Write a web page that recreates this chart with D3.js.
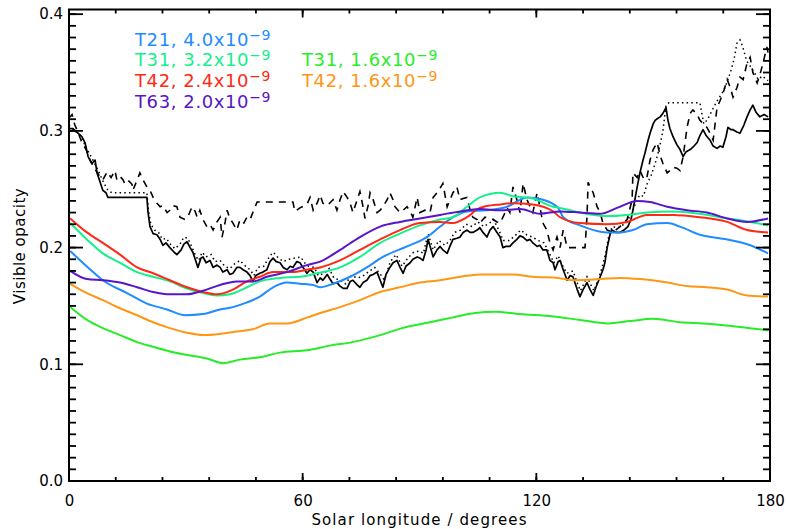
<!DOCTYPE html>
<html>
<head>
<meta charset="utf-8">
<script src="https://cdn.jsdelivr.net/npm/d3@7"></script>
<style>
  body { margin: 0; background: #fff; }
  text { font-family: "DejaVu Sans", sans-serif; }
</style>
</head>
<body>
<script>
// model curves, [solar longitude, visible opacity]
var t21_40 = [[0.3,0.197],[6.2,0.179],[8.7,0.172],[14.9,0.161],[20.0,0.152],[25.2,0.147],[29.8,0.142],[34.4,0.143],
  [38.8,0.147],[42.1,0.149],[45.7,0.153],[49.0,0.158],[52.4,0.166],[56.0,0.170],[59.3,0.169],[62.7,0.168],[64.5,0.166],
  [67.8,0.169],[72.2,0.175],[76.5,0.183],[80.6,0.192],[86.8,0.201],[91.9,0.209],[95.3,0.218],[98.6,0.226],[102.2,0.231],
  [107.3,0.232],[112.5,0.235],[117.6,0.243],[121.7,0.241],[125.6,0.234],[126.9,0.226],[131.2,0.219],[138.2,0.213],
  [141.5,0.213],[144.8,0.215],[148.4,0.220],[153.6,0.221],[156.9,0.218],[162.0,0.211],[169.0,0.207],[174.9,0.202],[179.5,0.195]];

var t31_32 = [[0.3,0.221],[4.6,0.207],[8.7,0.195],[13.1,0.187],[17.5,0.179],[21.6,0.175],[25.9,0.171],[30.3,0.165],
  [34.4,0.161],[38.0,0.159],[41.3,0.160],[45.7,0.166],[49.0,0.171],[54.2,0.174],[59.3,0.175],[63.7,0.178],[69.6,0.183],
  [74.7,0.192],[79.9,0.204],[85.0,0.212],[90.1,0.219],[95.3,0.224],[98.6,0.226],[102.2,0.235],[105.5,0.243],[110.7,0.247],
  [114.0,0.244],[119.1,0.242],[124.3,0.235],[126.1,0.234],[131.2,0.230],[138.2,0.227],[143.3,0.228],[148.4,0.230],
  [155.1,0.231],[162.0,0.229],[169.0,0.225],[174.9,0.222],[179.5,0.219]];

var t42_24 = [[0.3,0.225],[4.6,0.213],[8.7,0.204],[13.1,0.194],[17.5,0.183],[21.6,0.178],[25.9,0.172],[30.3,0.166],
  [34.4,0.162],[38.0,0.160],[42.1,0.164],[45.7,0.171],[49.0,0.175],[52.4,0.179],[57.5,0.179],[61.1,0.181],[64.5,0.183],
  [69.6,0.189],[74.7,0.198],[79.9,0.207],[85.0,0.215],[90.1,0.221],[95.3,0.222],[98.6,0.221],[102.2,0.226],[105.5,0.234],
  [110.7,0.237],[114.0,0.238],[119.1,0.237],[124.3,0.231],[126.1,0.226],[131.2,0.221],[138.2,0.220],[143.3,0.222],
  [148.4,0.228],[155.1,0.228],[162.0,0.226],[169.0,0.222],[174.1,0.215],[179.5,0.213]];

var t63_20 = [[0.3,0.180],[4.6,0.173],[8.7,0.172],[13.1,0.170],[17.5,0.166],[21.6,0.162],[25.9,0.160],[30.3,0.160],
  [34.4,0.163],[38.8,0.168],[43.1,0.171],[47.2,0.171],[50.8,0.175],[56.0,0.179],[61.1,0.185],[64.5,0.188],[69.6,0.198],
  [74.7,0.209],[79.9,0.218],[85.0,0.222],[90.1,0.225],[95.3,0.228],[100.4,0.231],[105.5,0.233],[110.7,0.232],[115.8,0.233],
  [120.9,0.229],[126.1,0.231],[131.2,0.230],[136.4,0.229],[140.7,0.234],[145.9,0.240],[149.2,0.239],[153.6,0.235],
  [158.7,0.232],[163.8,0.230],[169.0,0.225],[174.1,0.222],[179.5,0.225]];

var t31_16 = [[0.3,0.149],[4.6,0.138],[8.7,0.131],[13.1,0.125],[17.5,0.119],[21.6,0.115],[25.9,0.111],[30.3,0.108],
  [35.4,0.105],[39.5,0.101],[43.9,0.104],[49.0,0.106],[54.2,0.110],[61.1,0.112],[67.0,0.116],[72.7,0.119],[79.9,0.125],
  [85.5,0.131],[92.7,0.136],[98.3,0.140],[104.3,0.144],[109.4,0.145],[115.8,0.143],[124.3,0.141],[131.2,0.138],
  [138.4,0.135],[144.1,0.137],[150.0,0.139],[156.9,0.136],[162.8,0.135],[172.3,0.132],[179.7,0.129]];

var t42_16 = [[0.3,0.169],[4.6,0.161],[8.7,0.155],[13.1,0.148],[17.5,0.142],[21.6,0.136],[25.9,0.131],[30.3,0.127],
  [34.4,0.125],[38.8,0.126],[43.1,0.128],[47.2,0.130],[51.6,0.135],[56.0,0.135],[61.1,0.140],[64.5,0.144],[69.6,0.149],
  [74.7,0.155],[79.9,0.162],[85.0,0.166],[90.1,0.170],[95.3,0.172],[100.4,0.175],[105.5,0.177],[110.7,0.177],[114.0,0.177],
  [119.1,0.175],[125.6,0.174],[129.4,0.172],[136.4,0.173],[141.5,0.174],[146.6,0.173],[153.6,0.170],[158.7,0.167],
  [163.8,0.166],[169.0,0.164],[174.1,0.159],[179.5,0.158]];

// observations (black): solid, dotted, dashed
var obsSolid = [[0,0.302],[1.0,0.302],[2.3,0.298],[3.3,0.295],[4.1,0.290],[4.9,0.278],[5.9,0.272],[6.7,0.275],[7.2,0.264],
  [8.0,0.256],[8.7,0.249],[9.5,0.247],[10.0,0.243],[20.0,0.243],[20.3,0.230],[20.8,0.218],[21.6,0.212],[22.6,0.211],
  [23.4,0.207],[24.1,0.202],[24.9,0.204],[25.9,0.200],[27.0,0.196],[27.7,0.194],[28.8,0.198],[29.5,0.203],[30.3,0.205],
  [31.1,0.200],[31.8,0.196],[32.6,0.188],[33.1,0.183],[33.9,0.191],[34.4,0.192],[35.2,0.187],[36.2,0.189],[37.0,0.183],
  [38.0,0.185],[38.8,0.183],[39.5,0.179],[40.6,0.181],[41.3,0.177],[42.1,0.178],[43.1,0.183],[43.9,0.183],[44.7,0.181],
  [45.7,0.179],[46.5,0.176],[47.2,0.171],[48.0,0.176],[49.0,0.178],[49.8,0.179],[50.8,0.181],[51.6,0.188],[52.4,0.191],
  [53.2,0.188],[54.2,0.187],[55.0,0.183],[56.0,0.181],[56.8,0.184],[57.5,0.183],[58.5,0.188],[59.3,0.187],[60.1,0.183],
  [61.1,0.178],[61.9,0.181],[62.7,0.179],[63.7,0.170],[64.5,0.174],[65.2,0.172],[66.3,0.177],[67.0,0.173],[67.8,0.169],
  [68.8,0.170],[69.6,0.167],[70.4,0.165],[71.4,0.165],[72.2,0.171],[72.9,0.172],[74.0,0.168],[74.7,0.166],[75.5,0.170],
  [76.5,0.172],[77.3,0.176],[78.1,0.177],[79.1,0.179],[79.9,0.172],[80.6,0.166],[81.4,0.177],[82.4,0.183],[83.2,0.187],
  [84.2,0.189],[85.0,0.183],[85.8,0.178],[86.5,0.184],[87.6,0.187],[88.3,0.190],[89.4,0.192],[90.1,0.191],[90.9,0.189],
  [91.7,0.198],[92.2,0.207],[93.0,0.198],[93.5,0.192],[94.5,0.198],[95.3,0.201],[96.0,0.198],[97.1,0.195],[97.8,0.201],
  [98.6,0.207],[99.6,0.208],[100.4,0.209],[101.2,0.213],[102.2,0.215],[103.0,0.213],[103.7,0.213],[104.8,0.215],
  [105.5,0.217],[106.3,0.213],[107.3,0.209],[108.1,0.215],[108.9,0.218],[109.9,0.213],[110.7,0.209],[111.4,0.200],
  [112.2,0.201],[113.2,0.201],[114.0,0.204],[115.0,0.207],[115.8,0.210],[116.6,0.209],[117.6,0.206],[118.4,0.207],
  [119.1,0.204],[120.2,0.201],[120.9,0.202],[121.7,0.198],[122.7,0.198],[123.5,0.189],[124.3,0.187],[124.8,0.181],
  [125.6,0.188],[126.1,0.189],[126.9,0.181],[127.9,0.172],[128.7,0.176],[129.4,0.175],[130.5,0.164],[131.2,0.158],
  [132.0,0.164],[133.0,0.170],[133.8,0.164],[134.6,0.159],[135.3,0.166],[136.4,0.175],[137.1,0.181],[137.6,0.187],
  [138.2,0.200],[138.9,0.211],[139.4,0.215],[140.5,0.213],[141.5,0.213],[142.5,0.215],[143.5,0.218],[144.3,0.224],
  [144.8,0.232],[145.9,0.252],[146.6,0.264],[147.4,0.275],[147.9,0.281],[148.7,0.292],[149.2,0.298],[150.0,0.306],
  [150.5,0.309],[151.3,0.311],[151.8,0.312],[152.5,0.315],[153.3,0.320],[153.8,0.309],[154.3,0.302],[155.1,0.295],
  [156.1,0.288],[156.9,0.284],[157.7,0.278],[158.4,0.282],[159.5,0.284],[160.2,0.286],[161.3,0.290],[162.0,0.296],
  [162.8,0.301],[163.6,0.296],[164.6,0.292],[165.4,0.287],[166.4,0.285],[167.2,0.287],[167.9,0.286],[168.7,0.295],
  [169.2,0.303],[170.0,0.301],[170.5,0.301],[171.5,0.299],[172.3,0.298],[173.3,0.305],[174.1,0.312],[174.9,0.318],
  [175.6,0.322],[176.4,0.316],[177.4,0.312],[178.5,0.314],[179.5,0.312]];

var obsDotted = [[0,0.305],[1.5,0.300],[3.0,0.296],[4.5,0.285],[6.0,0.276],[7.5,0.266],[9.0,0.255],[10.0,0.249],
  [11.0,0.247],[20.0,0.247],[20.4,0.232],[21.0,0.220],[22.0,0.215],[23.0,0.213],[24.0,0.207],[25.0,0.208],[26.0,0.203],
  [27.2,0.199],[28.5,0.203],[29.5,0.209],[30.5,0.208],[31.5,0.201],[32.5,0.193],[33.3,0.189],[34.2,0.196],[35.2,0.192],
  [36.5,0.194],[37.5,0.188],[38.8,0.189],[40.0,0.184],[41.3,0.182],[42.5,0.186],[43.9,0.189],[45.0,0.185],[46.5,0.181],
  [47.5,0.176],[48.5,0.183],[50.0,0.184],[51.6,0.193],[52.5,0.196],[53.5,0.192],[55.0,0.188],[56.5,0.190],[58.0,0.191],
  [59.5,0.192],[60.5,0.187],[61.5,0.184],[63.0,0.183],[64.0,0.176],[65.5,0.178],[66.8,0.182],[68.0,0.174],[69.6,0.172],
  [71.0,0.169],[72.5,0.176],[74.0,0.174],[75.2,0.175],[76.8,0.179],[78.5,0.183],[80.0,0.177],[81.0,0.172],[82.5,0.188],
  [84.0,0.194],[85.5,0.184],[87.0,0.191],[88.5,0.196],[90.0,0.197],[91.0,0.195],[92.2,0.212],[93.5,0.198],[95.0,0.206],
  [96.5,0.202],[97.8,0.206],[99.0,0.213],[100.5,0.215],[102.0,0.220],[103.5,0.218],[105.0,0.222],[106.5,0.218],
  [108.0,0.221],[109.0,0.224],[110.5,0.214],[111.5,0.206],[113.0,0.206],[114.5,0.210],[116.0,0.215],[117.5,0.211],
  [119.0,0.209],[120.5,0.206],[122.0,0.204],[123.5,0.194],[124.5,0.187],[125.6,0.193],[126.5,0.186],[127.8,0.178],
  [129.4,0.180],[130.6,0.169],[131.3,0.163],[132.2,0.169],[133.0,0.175],[134.0,0.168],[134.8,0.163],[135.8,0.172],
  [136.8,0.182],[137.8,0.195],[138.6,0.210],[139.5,0.218],[141.0,0.217],[142.5,0.220],[143.5,0.224],[144.5,0.229],
  [145.5,0.238],[146.5,0.245],[147.5,0.244],[148.5,0.255],[149.5,0.262],[150.5,0.272],[151.5,0.284],[152.5,0.300],
  [153.3,0.322],[154.0,0.324],[162.0,0.324],[163.0,0.306],[164.0,0.310],[165.5,0.320],[166.5,0.326],[168.0,0.334],
  [169.0,0.342],[170.0,0.352],[170.8,0.362],[171.5,0.375],[172.3,0.378],[173.0,0.372],[174.0,0.360],[175.0,0.355],
  [176.0,0.350],[177.0,0.344],[178.0,0.347],[179.5,0.343]];

var obsDashed = [[0,0.311],[0.8,0.314],[1.5,0.305],[2.3,0.299],[3.3,0.290],[4.4,0.284],[5.4,0.275],[6.7,0.267],
  [7.7,0.262],[8.7,0.258],[9.8,0.265],[10.8,0.260],[11.8,0.266],[12.3,0.258],[13.1,0.261],[13.9,0.258],[14.4,0.254],
  [15.4,0.257],[16.2,0.254],[16.4,0.249],[17.5,0.258],[18.2,0.264],[19.0,0.258],[20.0,0.252],[20.8,0.249],[21.6,0.243],
  [22.6,0.238],[23.4,0.235],[24.1,0.236],[25.2,0.230],[25.9,0.232],[26.7,0.236],[27.7,0.235],[28.5,0.226],[29.8,0.224],
  [30.6,0.227],[31.6,0.235],[32.4,0.231],[32.9,0.226],[33.6,0.232],[34.4,0.224],[35.4,0.218],[36.2,0.220],[37.0,0.215],
  [38.0,0.222],[38.8,0.226],[39.3,0.209],[40.1,0.222],[40.6,0.232],[41.3,0.225],[42.1,0.221],[43.1,0.215],[43.9,0.224],
  [44.9,0.221],[45.7,0.226],[46.5,0.224],[47.2,0.230],[48.3,0.239],[57.5,0.239],[58.0,0.231],[59.3,0.234],[61.1,0.237],
  [61.9,0.243],[62.7,0.232],[63.7,0.238],[64.5,0.245],[65.2,0.238],[66.3,0.236],[67.8,0.241],[68.8,0.232],[69.6,0.241],
  [70.4,0.248],[71.4,0.243],[72.2,0.238],[72.9,0.230],[74.0,0.241],[74.7,0.248],[75.5,0.235],[76.0,0.225],[76.8,0.236],
  [77.3,0.247],[78.1,0.241],[79.1,0.230],[79.9,0.232],[80.6,0.235],[81.7,0.241],[82.4,0.247],[83.2,0.241],[83.7,0.235],
  [85.0,0.230],[85.8,0.232],[86.8,0.235],[87.6,0.231],[88.3,0.226],[89.4,0.243],[90.1,0.230],[91.4,0.232],[92.7,0.230],
  [93.5,0.243],[94.5,0.247],[95.3,0.251],[96.0,0.255],[97.1,0.235],[97.8,0.241],[98.6,0.247],[99.6,0.252],[100.4,0.241],
  [101.2,0.242],[102.2,0.243],[103.0,0.232],[103.7,0.226],[104.8,0.224],[105.5,0.221],[106.8,0.226],[107.9,0.225],
  [108.9,0.224],[109.9,0.222],[110.7,0.221],[111.7,0.228],[112.5,0.234],[113.2,0.230],[114.0,0.252],[115.0,0.241],
  [115.8,0.230],[116.6,0.255],[117.6,0.241],[118.4,0.235],[119.1,0.230],[120.2,0.247],[120.9,0.235],[121.7,0.221],
  [122.7,0.215],[123.5,0.204],[124.3,0.198],[125.3,0.209],[126.1,0.200],[126.9,0.215],[127.9,0.200],[132.5,0.200],
  [133.0,0.226],[133.3,0.256],[133.8,0.252],[134.6,0.247],[135.6,0.235],[136.4,0.230],[137.1,0.221],[138.2,0.215],
  [139.7,0.213],[141.5,0.218],[143.3,0.224],[144.6,0.241],[144.8,0.264],[145.9,0.260],[146.6,0.266],[147.7,0.258],
  [148.4,0.260],[149.2,0.275],[150.0,0.284],[151.0,0.290],[151.8,0.279],[152.5,0.272],[153.6,0.264],[154.3,0.266],
  [155.1,0.269],[156.1,0.268],[156.9,0.266],[157.7,0.278],[158.7,0.303],[159.5,0.315],[160.2,0.318],[161.3,0.314],
  [162.0,0.309],[163.8,0.303],[164.6,0.298],[165.4,0.292],[166.4,0.320],[167.2,0.326],[168.2,0.335],[169.0,0.344],
  [169.7,0.338],[170.5,0.329],[171.5,0.337],[172.3,0.346],[173.1,0.344],[174.1,0.358],[174.9,0.363],[175.6,0.350],
  [176.7,0.341],[177.4,0.348],[178.2,0.358],[179.2,0.372],[179.5,0.367]];

var legendRes = ["T21", "T31", "T42", "T63", "T31", "T42"];
var legendDust = ["4.0", "3.2", "2.4", "2.0", "1.6", "1.6"];
var xTicks = [0, 60, 120, 180];
var yTicks = [0.0, 0.1, 0.2, 0.3, 0.4];

var models = [
  {data: t21_40, color: "#1e8cff", col: 0, row: 0},
  {data: t31_32, color: "#14f08c", col: 0, row: 1},
  {data: t42_24, color: "#ff2814", col: 0, row: 2},
  {data: t63_20, color: "#5814c8", col: 0, row: 3},
  {data: t31_16, color: "#28ec28", col: 1, row: 1},
  {data: t42_16, color: "#ff9614", col: 1, row: 2}
];

var W = 787, H = 529;
var svg = d3.select("body").append("svg")
  .attr("width", W)
  .attr("height", H);

var x = d3.scaleLinear().domain([0, 180]).range([69, 770]);
var y = d3.scaleLinear().domain([0, 0.404]).range([481, 9.5]);

svg.append("clipPath").attr("id", "plot")
  .append("rect")
  .attr("x", 69).attr("y", 9.5)
  .attr("width", 701).attr("height", 471.5);

var plot = svg.append("g").attr("clip-path", "url(#plot)");

var lineRaw = d3.line()
  .x(function(d) { return x(d[0]); })
  .y(function(d) { return y(d[1]); });

var lineSmooth = d3.line()
  .curve(d3.curveMonotoneX)
  .x(function(d) { return x(d[0]); })
  .y(function(d) { return y(d[1]); });

plot.append("path").datum(obsDashed)
  .attr("d", lineRaw)
  .attr("fill", "none").attr("stroke", "#000")
  .attr("stroke-width", 1.6)
  .attr("stroke-dasharray", "7,6");

plot.append("path").datum(obsDotted)
  .attr("d", lineRaw)
  .attr("fill", "none").attr("stroke", "#000")
  .attr("stroke-width", 1.5)
  .attr("stroke-dasharray", "1.5,3.2");

plot.append("path").datum(obsSolid)
  .attr("d", lineRaw)
  .attr("fill", "none").attr("stroke", "#000")
  .attr("stroke-width", 1.7)
  .attr("stroke-linejoin", "round");

plot.selectAll(".model")
  .data(models)
  .enter().append("path")
  .attr("class", "model")
  .attr("d", function(d) { return lineSmooth(d.data); })
  .attr("fill", "none")
  .attr("stroke", function(d) { return d.color; })
  .attr("stroke-width", 2);

// tick marks, all pointing into the plot
var yMinor = d3.range(0, 41).map(function(i) { return i / 100; });
var xMinor = d3.range(0, 16).map(function(i) { return i * 12; });
var ticks = svg.append("g").attr("stroke", "#000").attr("stroke-width", 1.8);

function yTickLines(vals, len) {
  vals.forEach(function(v) {
    ticks.append("line")
      .attr("x1", x(0)).attr("x2", x(0) + len)
      .attr("y1", y(v)).attr("y2", y(v));
    ticks.append("line")
      .attr("x1", x(180)).attr("x2", x(180) - len)
      .attr("y1", y(v)).attr("y2", y(v));
  });
}
function xTickLines(vals, len) {
  vals.forEach(function(v) {
    ticks.append("line")
      .attr("x1", x(v)).attr("x2", x(v))
      .attr("y1", y.range()[0]).attr("y2", y.range()[0] - len);
    ticks.append("line")
      .attr("x1", x(v)).attr("x2", x(v))
      .attr("y1", y.range()[1]).attr("y2", y.range()[1] + len);
  });
}
yTickLines(yMinor, 7);
yTickLines(yTicks, 14);
xTickLines(xMinor, 4);
xTickLines(xTicks, 8);

// tick labels
function styleAxis(g) {
  g.select(".domain").remove();
  g.selectAll("line").remove();
  g.selectAll("text")
    .attr("fill", "#000")
    .style("font-family", "'DejaVu Sans', sans-serif")
    .style("font-size", "15px");
}

svg.append("g").attr("transform", "translate(69,0)")
  .call(d3.axisLeft(y).tickValues(yTicks).tickSize(0).tickPadding(6).tickFormat(d3.format(".1f")))
  .call(styleAxis);

svg.append("g").attr("transform", "translate(0,481)")
  .call(d3.axisBottom(x).tickValues(xTicks).tickSize(0).tickPadding(14).tickFormat(d3.format("d")))
  .call(styleAxis);

svg.append("rect")
  .attr("x", 69).attr("y", 9.5)
  .attr("width", 701).attr("height", 471.5)
  .attr("fill", "none").attr("stroke", "#000").attr("stroke-width", 2);

svg.append("text")
  .attr("x", 419.5).attr("y", 525)
  .attr("text-anchor", "middle")
  .attr("font-size", 15)
  .attr("letter-spacing", 1.1)
  .text("Solar longitude / degrees");

svg.append("text")
  .attr("transform", "translate(25,246) rotate(-90)")
  .attr("text-anchor", "middle")
  .attr("font-size", 15)
  .attr("letter-spacing", 0.5)
  .text("Visible opacity");

// legend
var leg = svg.selectAll(".leg")
  .data(models)
  .enter().append("text")
  .attr("class", "leg")
  .attr("x", function(d) { return d.col === 0 ? 135 : 302; })
  .attr("y", function(d) { return 45.7 + d.row * 20.6; })
  .attr("font-size", 18)
  .attr("letter-spacing", 0.6)
  .attr("fill", function(d) { return d.color; });

leg.append("tspan")
  .text(function(d, i) { return legendRes[i] + ", " + legendDust[i] + "x10"; });
leg.append("tspan")
  .attr("dy", -6)
  .attr("font-size", 14)
  .text("\u22129");
</script>
</body>
</html>
